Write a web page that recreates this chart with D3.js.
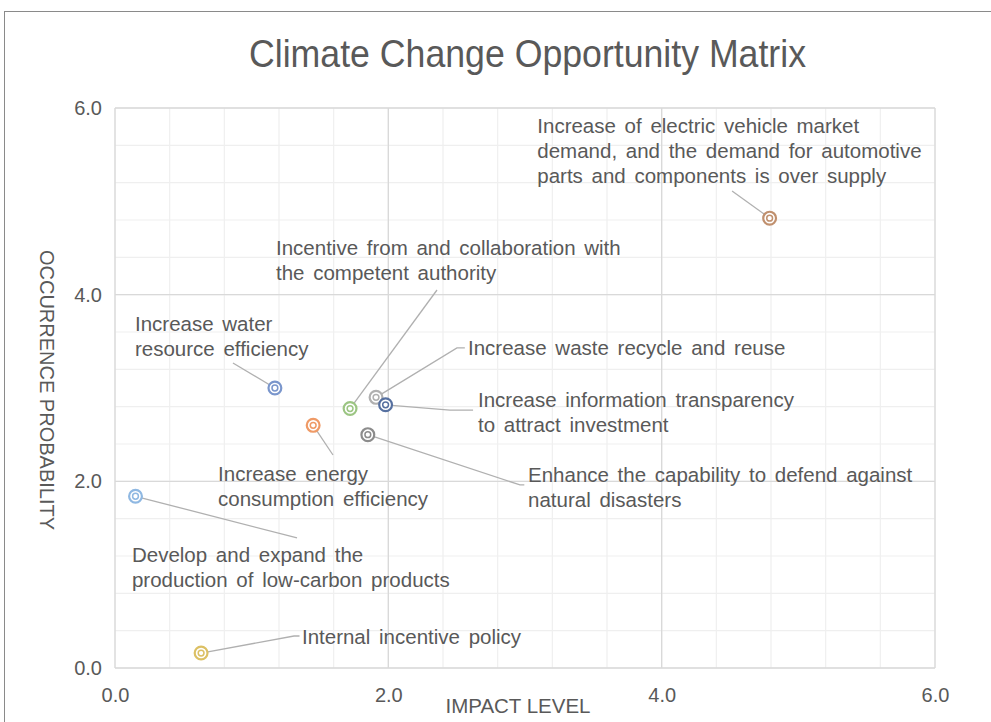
<!DOCTYPE html>
<html>
<head>
<meta charset="utf-8">
<script src="https://cdn.jsdelivr.net/npm/d3@7"></script>
<style>
  html, body { margin: 0; padding: 0; background: #fff; }
  svg { display: block; }
  text { font-family: "Liberation Sans", Arial, sans-serif; fill: #595959; }
</style>
</head>
<body>
<svg id="chart" width="991" height="722"></svg>
<script>
// Opportunities (one entry per point)
const opportunities = [
  "Increase of electric vehicle market demand, and the demand for automotive parts and components is over supply",
  "Increase water resource efficiency",
  "Incentive from and collaboration with the competent authority",
  "Increase waste recycle and reuse",
  "Increase information transparency to attract investment",
  "Increase energy consumption efficiency",
  "Enhance the capability to defend against natural disasters",
  "Develop and expand the production of low-carbon products",
  "Internal incentive policy"
];
const impactLevel = [4.79, 1.17, 1.72, 1.91, 1.98, 1.45, 1.85, 0.15, 0.63];
const occurrenceProbability = [4.82, 3.00, 2.78, 2.90, 2.82, 2.60, 2.50, 1.84, 0.16];

// Wrapped label lines for each opportunity
const labelLines = [
  ["Increase of electric vehicle market", "demand, and the demand for automotive", "parts and components is over supply"],
  ["Increase water", "resource efficiency"],
  ["Incentive from and collaboration with", "the competent authority"],
  ["Increase waste recycle and reuse"],
  ["Increase information transparency", "to attract investment"],
  ["Increase energy", "consumption efficiency"],
  ["Enhance the capability to defend against", "natural disasters"],
  ["Develop and expand the", "production of low-carbon products"],
  ["Internal incentive policy"]
];

const xTicks = [0, 2, 4, 6];
const yTicks = [0, 2, 4, 6];
const minorStep = 0.4;
const title = "Climate Change Opportunity Matrix";
const xTitle = "IMPACT LEVEL";
const yTitle = "OCCURRENCE PROBABILITY";

// Marker colours
const markerColors = ["#c0906e", "#7a96cc", "#9cc583", "#b0b0b0", "#5670a0", "#ef9a66", "#8c8c8c", "#8fb8e2", "#dcc064"];

// Label placement in chart units: text anchor (left, first baseline) and leader path
const labelLayout = [
  { tx: 3.09, ty: 5.73, leader: [[4.515, 5.111]] },
  { tx: 0.146, ty: 3.611, leader: [[0.863, 3.268]] },
  { tx: 1.178, ty: 4.425, leader: [[2.356, 4.05]] },
  { tx: 2.583, ty: 3.354, leader: [[2.502, 3.429], [2.56, 3.429]] },
  { tx: 2.656, ty: 2.796, leader: [[2.451, 2.764], [2.62, 2.764]] },
  { tx: 0.754, ty: 2.004, leader: [[1.595, 2.282]] },
  { tx: 3.022, ty: 1.993, leader: [[2.963, 1.961], [2.995, 1.961]] },
  { tx: 0.124, ty: 1.136, leader: [[1.332, 1.393]] },
  { tx: 1.368, ty: 0.257, leader: [[1.31, 0.343], [1.35, 0.343]] }
];

const svg = d3.select("#chart");

// Chart frame
svg.append("rect")
  .attr("x", 4.5).attr("y", 11.5)
  .attr("width", 1000).attr("height", 800)
  .attr("fill", "#fff").attr("stroke", "#8a8a8a").attr("stroke-width", 1);

const x = d3.scaleLinear().domain([0, 6]).range([115, 935]);
const y = d3.scaleLinear().domain([0, 6]).range([668, 108]);

// Minor gridlines
const minor = d3.range(0, 6 + 1e-9, minorStep);
const grid = svg.append("g");
grid.selectAll("line.mx").data(minor).join("line")
  .attr("x1", d => x(d)).attr("x2", d => x(d))
  .attr("y1", y(0)).attr("y2", y(6))
  .attr("stroke", "#efefef").attr("stroke-width", 1.2);
grid.selectAll("line.my").data(minor).join("line")
  .attr("y1", d => y(d)).attr("y2", d => y(d))
  .attr("x1", x(0)).attr("x2", x(6))
  .attr("stroke", "#efefef").attr("stroke-width", 1.2);

// Major gridlines
grid.selectAll("line.gx").data(xTicks).join("line")
  .attr("x1", d => x(d)).attr("x2", d => x(d))
  .attr("y1", y(0)).attr("y2", y(6))
  .attr("stroke", "#d9d9d9").attr("stroke-width", 1.3);
grid.selectAll("line.gy").data(yTicks).join("line")
  .attr("y1", d => y(d)).attr("y2", d => y(d))
  .attr("x1", x(0)).attr("x2", x(6))
  .attr("stroke", "#d9d9d9").attr("stroke-width", 1.3);

// Axes (labels only)
const xAxis = svg.append("g").attr("transform", `translate(0,${y(0)})`)
  .call(d3.axisBottom(x).tickValues(xTicks).tickFormat(d3.format(".1f")).tickSize(0).tickPadding(0));
xAxis.select(".domain").remove();
xAxis.selectAll("text")
  .attr("dy", null).attr("y", 34)
  .style("font-size", "20px").style("font-family", "'Liberation Sans', Arial, sans-serif").attr("fill", "#595959");

const yAxis = svg.append("g").attr("transform", `translate(102,0)`)
  .call(d3.axisLeft(y).tickValues(yTicks).tickFormat(d3.format(".1f")).tickSize(0).tickPadding(0));
yAxis.select(".domain").remove();
yAxis.selectAll("text")
  .style("font-size", "20px").style("font-family", "'Liberation Sans', Arial, sans-serif").attr("fill", "#595959");

// Titles
svg.append("text")
  .attr("x", 527.5).attr("y", 67)
  .attr("text-anchor", "middle")
  .attr("textLength", 557).attr("lengthAdjust", "spacingAndGlyphs")
  .style("font-size", "38.5px")
  .text(title);

svg.append("text")
  .attr("x", 518).attr("y", 713)
  .attr("text-anchor", "middle")
  .style("font-size", "20.5px")
  .text(xTitle);

svg.append("text")
  .attr("transform", `translate(39.5,390) rotate(90)`)
  .attr("text-anchor", "middle")
  .style("font-size", "20px")
  .text(yTitle);

// Point records built from the arrays
const points = opportunities.map((name, i) => ({
  name, ix: impactLevel[i], py: occurrenceProbability[i],
  lines: labelLines[i], color: markerColors[i], layout: labelLayout[i]
}));

// Leader lines
const line = d3.line().x(d => x(d[0])).y(d => y(d[1]));
svg.append("g").selectAll("path").data(points).join("path")
  .attr("d", d => line([[d.ix, d.py], ...d.layout.leader]))
  .attr("fill", "none").attr("stroke", "#b0b0b0").attr("stroke-width", 1.3);

// Markers: outer ring with an inner ring
const marks = svg.append("g").selectAll("g").data(points).join("g")
  .attr("transform", d => `translate(${x(d.ix)},${y(d.py)})`);
marks.append("circle").attr("r", 6.4)
  .attr("fill", "#fff").attr("stroke", d => d.color).attr("stroke-width", 2.2);
marks.append("circle").attr("r", 2.9)
  .attr("fill", "#fff").attr("stroke", d => d.color).attr("stroke-width", 1.5);

// Data labels
const labels = svg.append("g").selectAll("text").data(points).join("text")
  .attr("x", d => x(d.layout.tx)).attr("y", d => y(d.layout.ty))
  .style("font-size", "20.5px").style("word-spacing", "3px");
labels.selectAll("tspan").data(d => d.lines.map(t => ({ t, x: x(d.layout.tx) }))).join("tspan")
  .attr("x", d => d.x)
  .attr("dy", (d, i) => i === 0 ? 0 : 25)
  .text(d => d.t);
</script>
</body>
</html>
